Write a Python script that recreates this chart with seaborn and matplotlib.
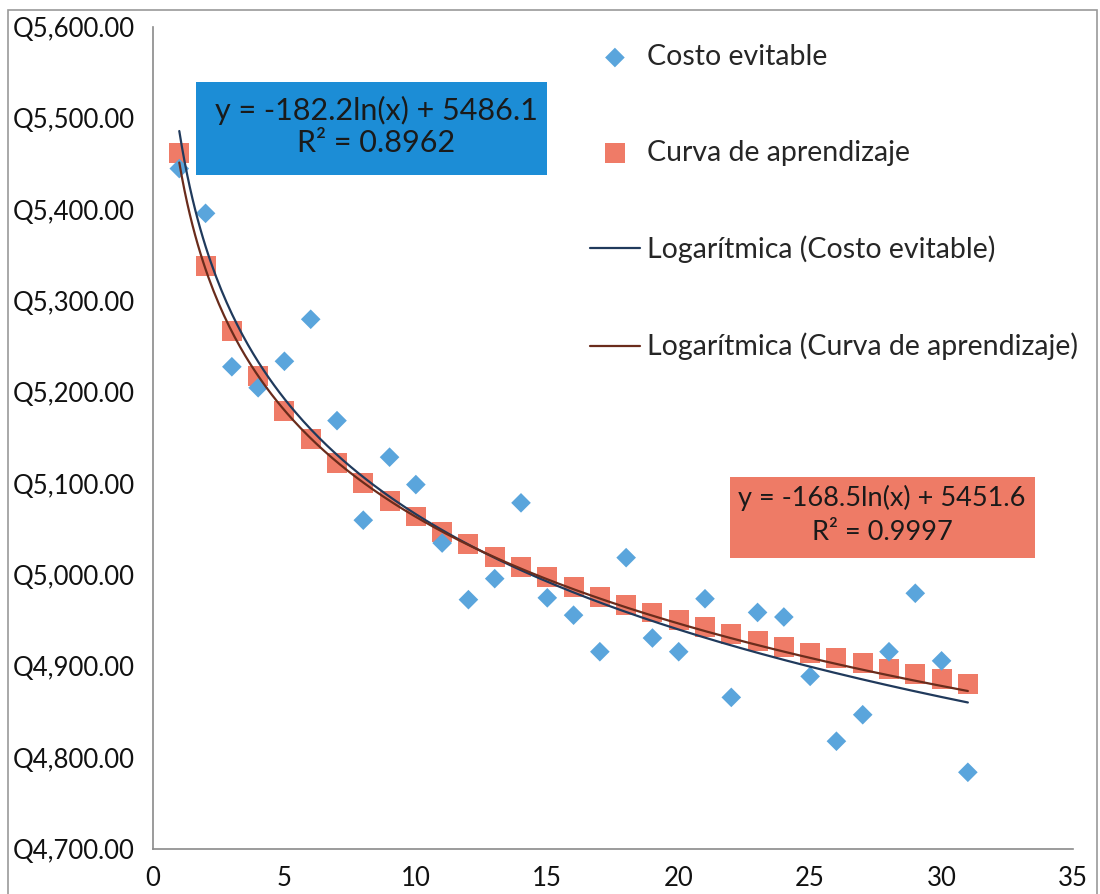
import numpy as np
import pandas as pd
import matplotlib
matplotlib.use("Agg")
import matplotlib.pyplot as plt
from matplotlib.patches import Rectangle
from matplotlib.ticker import FuncFormatter
import seaborn as sns

# Data
unidades = list(range(1, 32))
costo_evitable = [5445, 5396, 5228, 5205, 5234, 5280, 5169, 5060, 5129, 5099,
                  5035, 4973, 4996, 5079, 4975, 4956, 4916, 5019, 4931, 4916,
                  4974, 4866, 4959, 4954, 4889, 4818, 4847, 4916, 4980, 4906,
                  4784]
curva_aprendizaje = [5462, 5338, 5267, 5218, 5180, 5149, 5123, 5101, 5081, 5064,
                     5047, 5034, 5020, 5009, 4998, 4987, 4976, 4967, 4959, 4951,
                     4943, 4935, 4928, 4921, 4915, 4909, 4904, 4897, 4892, 4886,
                     4881]

# Logarithmic trend coefficients shown on the chart (slope, intercept, R2)
fit_costo = (-182.2, 5486.1, 0.8962)
fit_curva = (-168.5, 5451.6, 0.9997)

sns.set_style("white")
plt.rcParams['font.family'] = ['Lato', 'DejaVu Sans']

df = pd.DataFrame({"x": unidades, "costo": costo_evitable, "curva": curva_aprendizaje})
xs = np.linspace(min(unidades), max(unidades), 300)
trend = pd.DataFrame({
    "x": xs,
    "costo": fit_costo[0] * np.log(xs) + fit_costo[1],
    "curva": fit_curva[0] * np.log(xs) + fit_curva[1],
})

fig = plt.figure(figsize=(11, 8.94), dpi=100)
ax = fig.add_axes([153 / 1100, 1 - 849 / 894, 920 / 1100, 822 / 894])

sns.scatterplot(data=df, x="x", y="curva", ax=ax, marker="s", s=205,
                color="#EF7B67", edgecolor="none", label="Curva de aprendizaje", zorder=3)
sns.scatterplot(data=df, x="x", y="costo", ax=ax, marker="D", s=100,
                color="#5AA5DC", edgecolor="none", label="Costo evitable", zorder=4)
sns.lineplot(data=trend, x="x", y="costo", ax=ax, color="#203A5C", lw=1.6,
             label="Logarítmica (Costo evitable)", zorder=5)
sns.lineplot(data=trend, x="x", y="curva", ax=ax, color="#6A2C1C", lw=1.6,
             label="Logarítmica (Curva de aprendizaje)", zorder=5)

ax.set_xlim(0, 35)
ax.set_ylim(4700, 5600)
ax.set_xticks(range(0, 36, 5))
ax.set_yticks(range(4700, 5601, 100))
ax.yaxis.set_major_formatter(FuncFormatter(lambda v, p: f"Q{v:,.2f}"))
ax.set_xlabel("")
ax.set_ylabel("")
for s in ["top", "right"]:
    ax.spines[s].set_visible(False)
for s in ["left", "bottom"]:
    ax.spines[s].set_color("#8a8a8a")
    ax.spines[s].set_linewidth(1.2)
ax.tick_params(axis="both", direction="out", length=5, width=1.2, color="#8a8a8a",
               labelsize=18.5, labelcolor="#111111")
ax.tick_params(axis="y", pad=8)
ax.tick_params(axis="x", pad=7)

# legend, reordered like the reference
h, l = ax.get_legend_handles_labels()
order = ["Costo evitable", "Curva de aprendizaje",
         "Logarítmica (Costo evitable)", "Logarítmica (Curva de aprendizaje)"]
hh = [h[l.index(o)] for o in order]
ax.legend(hh, order, loc="upper left", bbox_to_anchor=(590 / 1100, 1 - 44 / 894),
          bbox_transform=fig.transFigure, frameon=False, fontsize=20.5,
          labelspacing=2.45, handlelength=1.75, handletextpad=0.25,
          borderpad=0, borderaxespad=0)

# trendline equation boxes
fig.add_artist(Rectangle((196 / 1100, 1 - 175 / 894), 351 / 1100, 93 / 894,
                         transform=fig.transFigure, facecolor="#1C8DD6", edgecolor="none", zorder=6))
fig.text(376 / 1100, 1 - 110 / 894, f"y = {fit_costo[0]}ln(x) + {fit_costo[1]}",
         ha="center", va="center", fontsize=22, color="#1a1a1a", zorder=7)
fig.text(376 / 1100, 1 - 143 / 894, f"R² = {fit_costo[2]}",
         ha="center", va="center", fontsize=22, color="#1a1a1a", zorder=7)

fig.add_artist(Rectangle((730 / 1100, 1 - 558 / 894), 305 / 1100, 81 / 894,
                         transform=fig.transFigure, facecolor="#EE7B66", edgecolor="none", zorder=6))
fig.text(882 / 1100, 1 - 498 / 894, f"y = {fit_curva[0]}ln(x) + {fit_curva[1]}",
         ha="center", va="center", fontsize=19.5, color="#1a1a1a", zorder=7)
fig.text(882 / 1100, 1 - 532 / 894, f"R² = {fit_curva[2]}",
         ha="center", va="center", fontsize=19.5, color="#1a1a1a", zorder=7)

# chart area border
fig.add_artist(Rectangle((8 / 1100, -0.05), 1089 / 1100, 1.05 - 10 / 894,
                         transform=fig.transFigure, facecolor="none",
                         edgecolor="#9a9a9a", lw=1.2))

fig.savefig("out.png", dpi=100)
